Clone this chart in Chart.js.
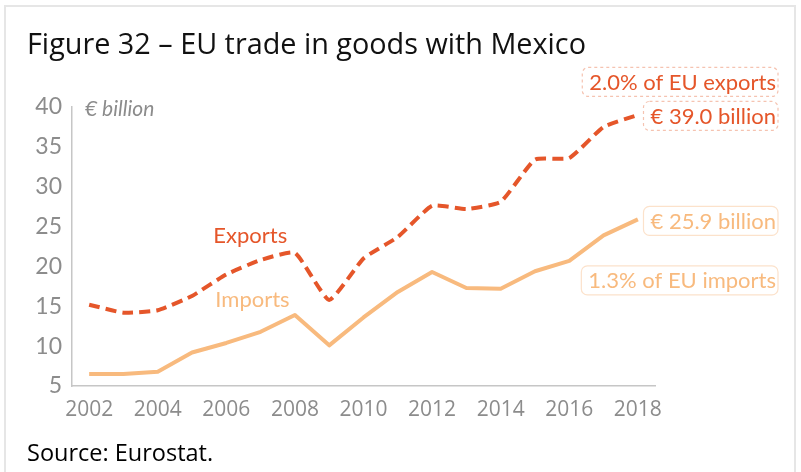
<!DOCTYPE html>
<html>
<head>
<meta charset="utf-8">
<title>EU trade in goods with Mexico</title>
<script src="https://cdn.jsdelivr.net/npm/chart.js@4.4.1/dist/chart.umd.min.js"></script>
<style>
  html, body { margin: 0; padding: 0; background: #fff; }
  #wrap { position: relative; width: 801px; height: 472px; overflow: hidden; }
  #frame { position: absolute; left: 4px; top: 5px; width: 792px; height: 520px;
           border: 2px solid #e6e6e6; box-sizing: border-box; }
  h1 { position: absolute; left: 27px; top: 23px; margin: 0; font: 400 28.8px "Open Sans", sans-serif;
       color: #111; white-space: nowrap; }
  #source { position: absolute; left: 27px; top: 436px; font: 400 23.5px "Open Sans", sans-serif;
            color: #000; white-space: nowrap; }
  #chart { position: absolute; left: 0; top: 0; }
</style>
</head>
<body>
<div id="wrap">
  <div id="frame"></div>
  <canvas id="chart" width="801" height="472"></canvas>
  <h1>Figure 32 – EU trade in goods with Mexico</h1>
  <div id="source">Source: Eurostat.</div>
</div>
<script>
// EU trade in goods with Mexico, € billion
const years = ['2002', '2003', '2004', '2005', '2006', '2007', '2008', '2009', '2010',
               '2011', '2012', '2013', '2014', '2015', '2016', '2017', '2018'];
const exportsBn = [15.2, 14.2, 14.5, 16.3, 19.0, 20.8, 21.7, 15.8, 21.0,
                   23.7, 27.6, 27.2, 28.1, 33.4, 33.6, 37.5, 39.0];
const importsBn = [6.5, 6.5, 6.8, 9.2, 10.4, 11.8, 13.9, 10.1, 13.6,
                   16.8, 19.3, 17.3, 17.2, 19.4, 20.7, 23.9, 25.9];
const yTicks = [5, 10, 15, 20, 25, 30, 35, 40];
const exportsShare = '2.0%';
const importsShare = '1.3%';

const EXP_COLOR = '#E5562A';
const IMP_COLOR = '#F8BA7E';
const GREY = '#8c8c8c';

function roundRect(ctx, x, y, w, h, r) {
  ctx.beginPath();
  ctx.moveTo(x + r, y);
  ctx.lineTo(x + w - r, y);
  ctx.arcTo(x + w, y, x + w, y + r, r);
  ctx.lineTo(x + w, y + h - r);
  ctx.arcTo(x + w, y + h, x + w - r, y + h, r);
  ctx.lineTo(x + r, y + h);
  ctx.arcTo(x, y + h, x, y + h - r, r);
  ctx.lineTo(x, y + r);
  ctx.arcTo(x, y, x + r, y, r);
  ctx.closePath();
}

// label in a rounded box, right edge fixed
function boxedLabel(ctx, text, right, cy, color, border, dashed) {
  ctx.save();
  ctx.font = '22px Lato';
  const w = ctx.measureText(text).width;
  const left = right - w - 9;
  roundRect(ctx, left, cy - 14.5, w + 9, 29, 6);
  ctx.fillStyle = '#fff';
  ctx.fill();
  ctx.lineWidth = 1.2;
  ctx.strokeStyle = border;
  ctx.setLineDash(dashed ? [3, 3] : []);
  ctx.stroke();
  ctx.fillStyle = color;
  ctx.textAlign = 'right';
  ctx.textBaseline = 'middle';
  ctx.fillText(text, right - 2, cy + 1);
  ctx.restore();
}

const labelsPlugin = {
  id: 'seriesLabels',
  afterDatasetsDraw(chart) {
    const { ctx, chartArea, scales: { x, y } } = chart;
    const last = years.length - 1;
    ctx.save();
    ctx.textBaseline = 'middle';

    // unit
    ctx.font = 'italic 21px Lato';
    ctx.fillStyle = GREY;
    ctx.fillText('€ billion', chartArea.left + 13, chartArea.top + 2);

    // series names
    ctx.font = '22px Lato';
    ctx.fillStyle = EXP_COLOR;
    ctx.fillText('Exports', x.getPixelForValue(4) - 13, y.getPixelForValue(exportsBn[4]) - 38);
    ctx.fillStyle = IMP_COLOR;
    ctx.fillText('Imports', x.getPixelForValue(4) - 11, y.getPixelForValue(importsBn[4]) - 43);
    ctx.restore();

    const right = chartArea.right + 123;
    const ey = y.getPixelForValue(exportsBn[last]);
    const iy = y.getPixelForValue(importsBn[last]);
    boxedLabel(ctx, exportsShare + ' of EU exports', right, ey - 33, EXP_COLOR, '#F5C3B1', true);
    boxedLabel(ctx, '€ ' + exportsBn[last].toFixed(1) + ' billion', right, ey + 1, EXP_COLOR, '#F5C3B1', true);
    boxedLabel(ctx, '€ ' + importsBn[last].toFixed(1) + ' billion', right, iy + 1.5, IMP_COLOR, '#FCE2CB', false);
    boxedLabel(ctx, importsShare + ' of EU imports', right, iy + 61, IMP_COLOR, '#FCE2CB', false);
  }
};

new Chart(document.getElementById('chart'), {
  type: 'line',
  data: {
    labels: years,
    datasets: [
      {
        label: 'Exports',
        data: exportsBn,
        borderColor: EXP_COLOR,
        borderWidth: 4,
        borderDash: [11, 6],
        borderCapStyle: 'butt',
        borderJoinStyle: 'round',
        pointRadius: 0,
        tension: 0.15,
        fill: false
      },
      {
        label: 'Imports',
        data: importsBn,
        borderColor: IMP_COLOR,
        borderWidth: 4,
        borderJoinStyle: 'round',
        pointRadius: 0,
        tension: 0,
        fill: false
      }
    ]
  },
  options: {
    responsive: false,
    animation: false,
    layout: { padding: { left: 0, top: 107, right: 146, bottom: 40 } },
    plugins: {
      legend: { display: false },
      tooltip: { enabled: false },
      title: { display: false }
    },
    scales: {
      x: {
        type: 'category',
        offset: true,
        grid: { display: false, drawTicks: false },
        border: { display: true, color: '#c6c6c6', width: 1.5 },
        ticks: {
          color: GREY,
          font: { family: 'Open Sans', size: 21 },
          padding: 11,
          maxRotation: 0,
          autoSkip: false,
          callback: (v, i) => (i % 2 === 0 ? years[i] : '')
        },
        afterFit: (scale) => { scale.height = 46; }
      },
      y: {
        min: yTicks[0],
        max: yTicks[yTicks.length - 1],
        grid: { display: false, drawTicks: false },
        border: { display: true, color: '#c6c6c6', width: 1.5 },
        ticks: {
          color: GREY,
          font: { family: 'Lato', size: 23 },
          padding: 10,
          stepSize: 5
        },
        afterBuildTicks: (scale) => { scale.ticks = yTicks.map(v => ({ value: v })); },
        afterFit: (scale) => { scale.width = 72; }
      }
    }
  },
  plugins: [labelsPlugin]
});
</script>
</body>
</html>
